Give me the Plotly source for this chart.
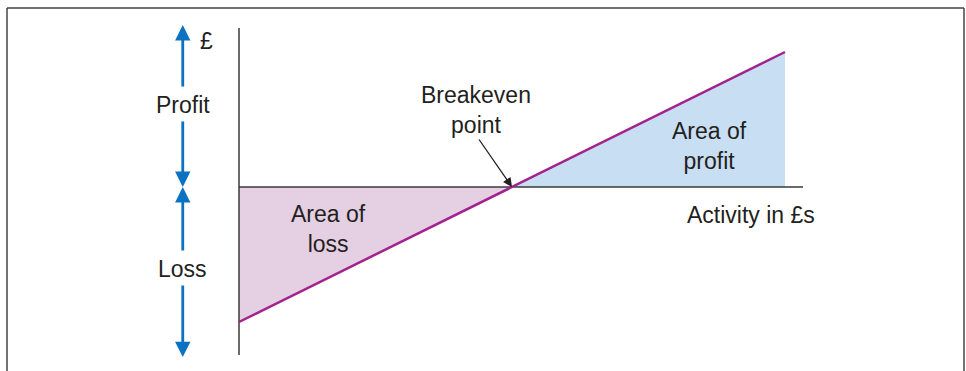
import plotly.graph_objects as go

# break-even chart, conceptual units
activity = [0, 50, 100]          # activity in £s
profit = [-50, 0, 50]            # profit / loss in £
loss_area_x = [0, 0, 50]
loss_area_y = [0, -50, 0]
profit_area_x = [50, 100, 100]
profit_area_y = [0, 50, 0]

# axis extents
x_axis_end = 103.3
y_axis_top = 58.9
y_axis_bottom = -62.2

# blue profit/loss arrows: (start, tip) pairs along the left side
arrow_x = -10.3
profit_arrows = [(36.7, 60), (24.8, 0)]
loss_arrows = [(-24.1, 0), (-35.9, -63)]

W, H = 966, 371
FONT = "Liberation Sans, Arial, sans-serif"
PURPLE = "#a3238e"
BLUE = "#0a72c0"
AXIS = "#3a3a3a"

fig = go.Figure()

fig.add_trace(go.Scatter(x=loss_area_x, y=loss_area_y, fill="toself",
                         fillcolor="#e5cfe3", mode="lines", line=dict(width=0),
                         hoverinfo="skip"))
fig.add_trace(go.Scatter(x=profit_area_x, y=profit_area_y, fill="toself",
                         fillcolor="#c8def2", mode="lines", line=dict(width=0),
                         hoverinfo="skip"))

# axes
fig.add_trace(go.Scatter(x=[0, x_axis_end], y=[0, 0], mode="lines",
                         line=dict(color=AXIS, width=1.5), hoverinfo="skip"))
fig.add_trace(go.Scatter(x=[0, 0], y=[y_axis_bottom, y_axis_top], mode="lines",
                         line=dict(color=AXIS, width=1.5), hoverinfo="skip"))

# profit line
fig.add_trace(go.Scatter(x=activity, y=profit, mode="lines",
                         line=dict(color=PURPLE, width=2.5), hoverinfo="skip"))

for start, tip in profit_arrows + loss_arrows:
    fig.add_annotation(x=arrow_x, y=tip, ax=arrow_x, ay=start,
                       xref="x", yref="y", axref="x", ayref="y",
                       text="", showarrow=True, arrowhead=2,
                       arrowsize=1.1, arrowwidth=2.8, arrowcolor=BLUE,
                       standoff=0)

fnt = dict(family=FONT, size=23, color="#231f20")
labels = [
    (arrow_x, 30.4, "Profit"),
    (arrow_x, -30.4, "Loss"),
    (-5.9, 54, "£"),
    (16.3, -15.6, "Area of<br>loss"),
    (86.1, 15.2, "Area of<br>profit"),
    (93.8, -10.4, "Activity in £s"),
    (43.4, 28.6, "Breakeven<br>point"),
]
for x, y, t in labels:
    fig.add_annotation(x=x, y=y, xref="x", yref="y", text=t, showarrow=False,
                       font=fnt, align="center")

# breakeven pointer
fig.add_annotation(x=activity[1], y=profit[1], xref="x", yref="y",
                   ax=-34, ay=-49, text="", showarrow=True, arrowhead=2,
                   arrowsize=1.4, arrowwidth=1.3, arrowcolor="#231f20",
                   standoff=0)

# frame (open at the bottom)
frame = dict(type="line", xref="paper", yref="paper",
             line=dict(color="#444444", width=1.5))
fig.add_shape(x0=7 / W, x1=7 / W, y0=0, y1=1 - 8 / H, **frame)
fig.add_shape(x0=964 / W, x1=964 / W, y0=0, y1=1 - 8 / H, **frame)
fig.add_shape(x0=7 / W, x1=964 / W, y0=1 - 8 / H, y1=1 - 8 / H, **frame)

fig.update_layout(
    width=W, height=H,
    margin=dict(l=0, r=0, t=0, b=0),
    paper_bgcolor="white", plot_bgcolor="white",
    showlegend=False,
    xaxis=dict(visible=False, range=[-239 / 5.46, (W - 239) / 5.46], fixedrange=True),
    yaxis=dict(visible=False, range=[(187 - H) / 2.7, 187 / 2.7], fixedrange=True),
)

fig.write_html("out.html", config=dict(displayModeBar=False),
               post_script="document.body.style.margin='0';")
